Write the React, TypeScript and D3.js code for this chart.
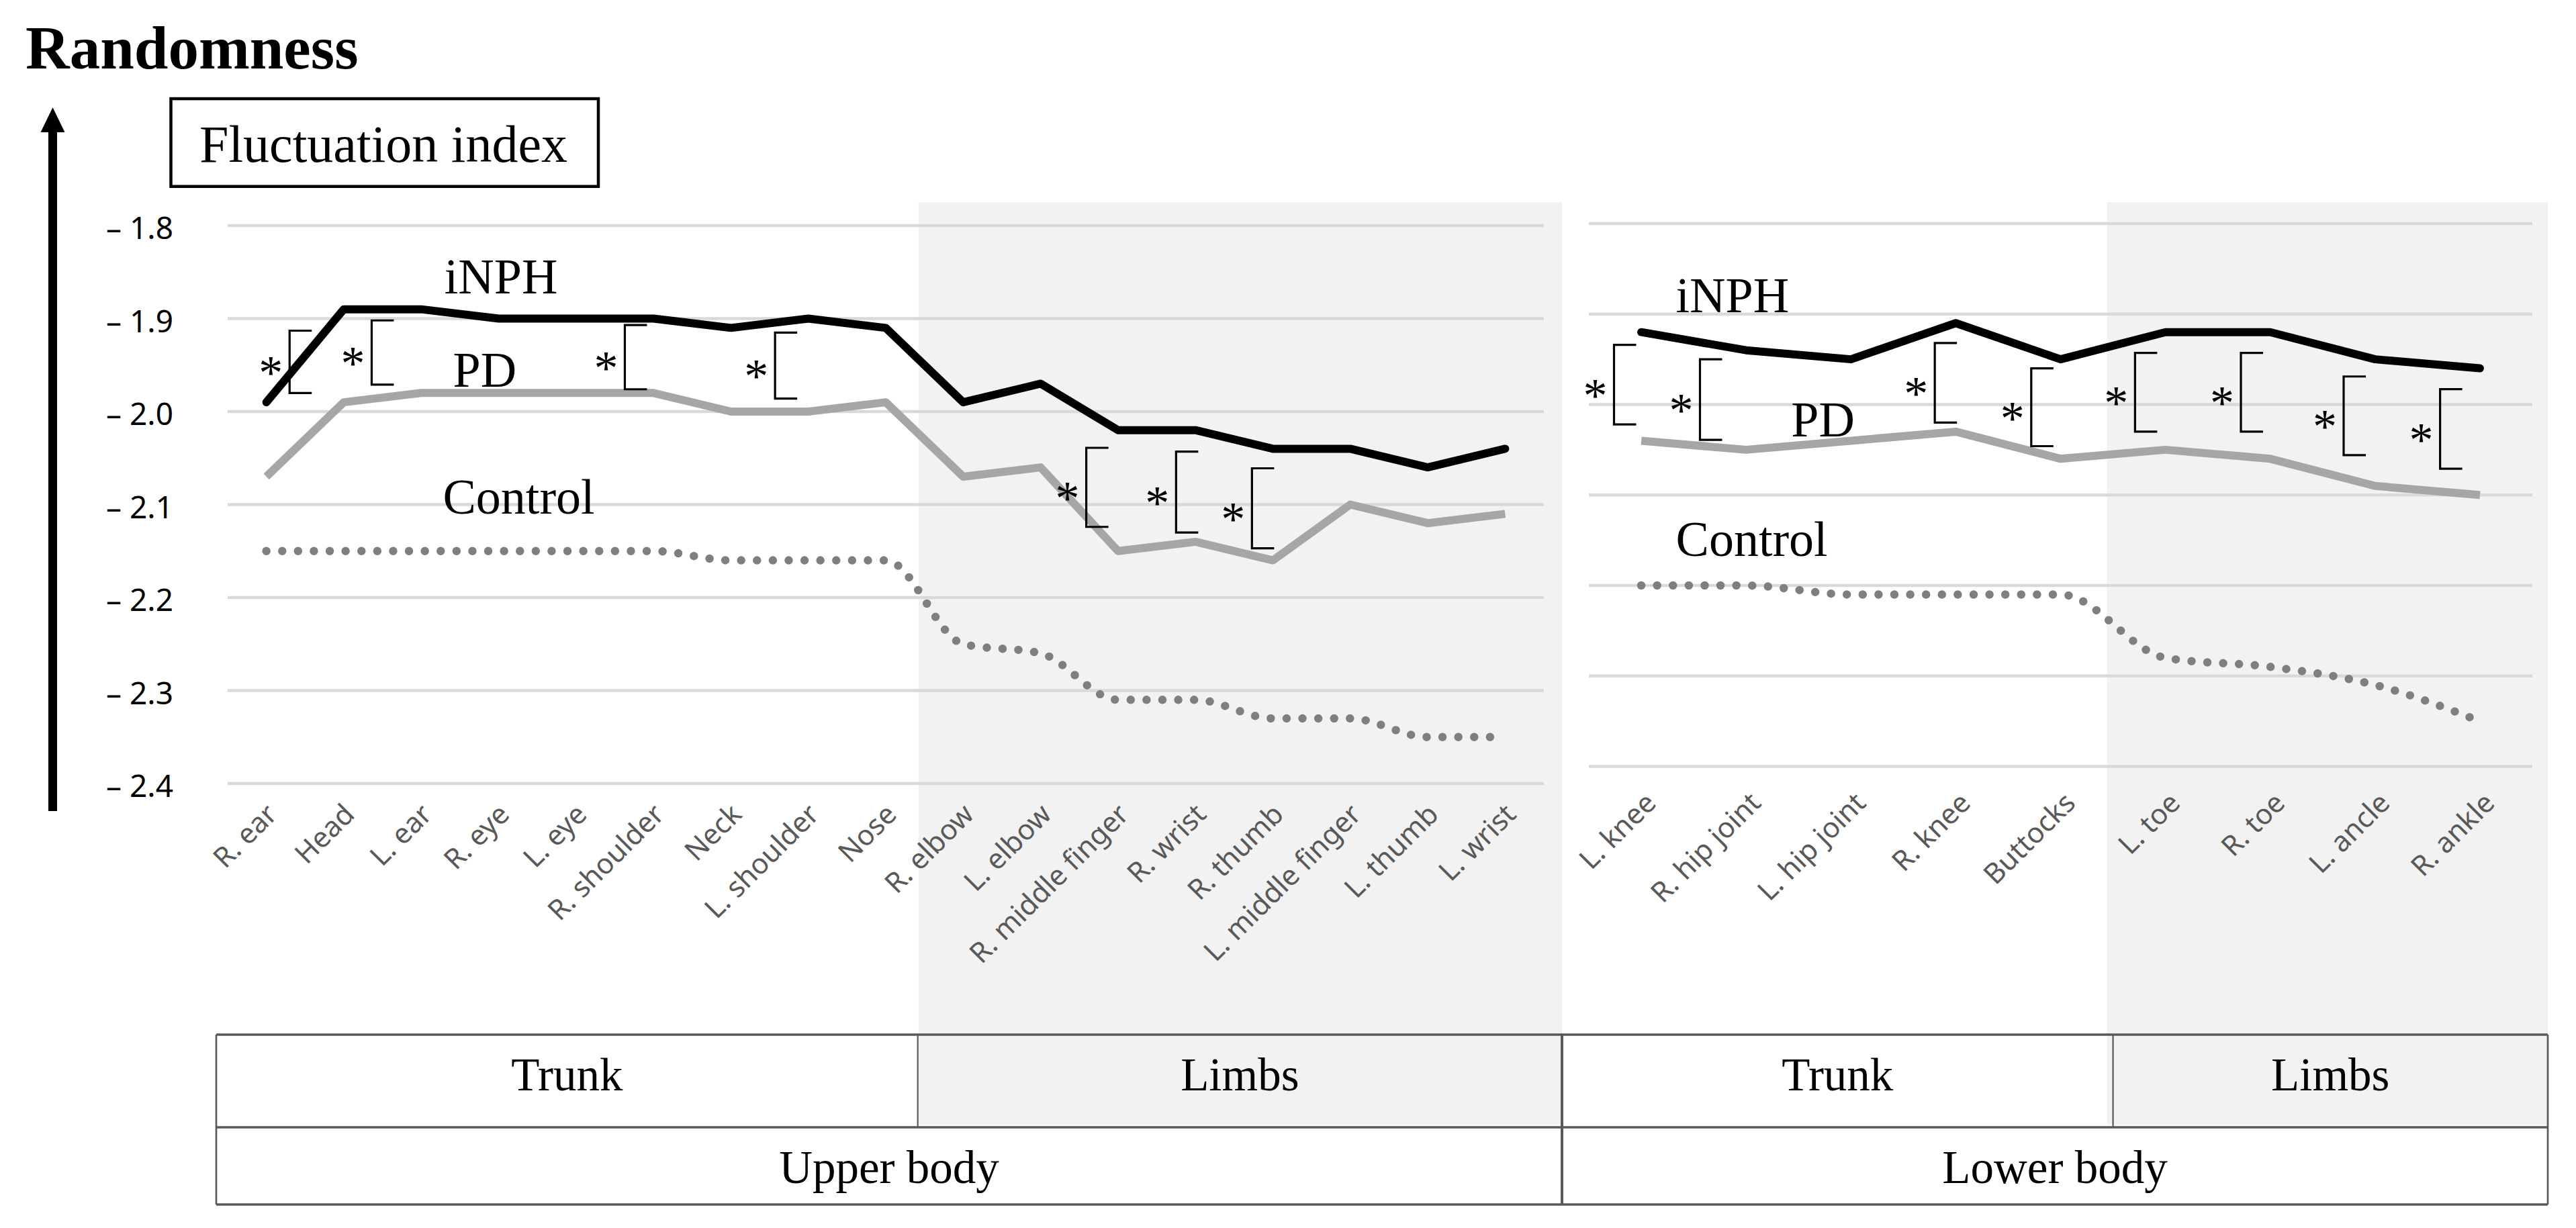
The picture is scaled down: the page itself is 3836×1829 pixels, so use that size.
import * as d3 from 'd3'

const WIDTH = 3836
const HEIGHT = 1829
const SERIF = "'Liberation Serif', 'Times New Roman', serif"
const SANS = "'Noto Sans', 'Open Sans', sans-serif"

// ---- data -------------------------------------------------------------
const upperParts = [
  'R. ear', 'Head', 'L. ear', 'R. eye', 'L. eye', 'R. shoulder', 'Neck', 'L. shoulder', 'Nose',
  'R. elbow', 'L. elbow', 'R. middle finger', 'R. wrist', 'R. thumb', 'L. middle finger', 'L. thumb', 'L. wrist',
]
const upperINPH = [-1.99, -1.89, -1.89, -1.9, -1.9, -1.9, -1.91, -1.9, -1.91, -1.99, -1.97, -2.02, -2.02, -2.04, -2.04, -2.06, -2.04]
const upperPD = [-2.07, -1.99, -1.98, -1.98, -1.98, -1.98, -2.0, -2.0, -1.99, -2.07, -2.06, -2.15, -2.14, -2.16, -2.1, -2.12, -2.11]
const upperControl = [-2.15, -2.15, -2.15, -2.15, -2.15, -2.15, -2.16, -2.16, -2.16, -2.25, -2.26, -2.31, -2.31, -2.33, -2.33, -2.35, -2.35]

const lowerParts = ['L. knee', 'R. hip joint', 'L. hip joint', 'R. knee', 'Buttocks', 'L. toe', 'R. toe', 'L. ancle', 'R. ankle']
const lowerINPH = [-1.92, -1.94, -1.95, -1.91, -1.95, -1.92, -1.92, -1.95, -1.96]
const lowerPD = [-2.04, -2.05, -2.04, -2.03, -2.06, -2.05, -2.06, -2.09, -2.1]
const lowerControl = [-2.2, -2.2, -2.21, -2.21, -2.21, -2.28, -2.29, -2.31, -2.35]

const yTicks = [-1.8, -1.9, -2.0, -2.1, -2.2, -2.3, -2.4]
const yDomain: [number, number] = [-2.4, -1.8]

const bodyGroups = ['Upper body', 'Lower body']
const partGroups = ['Trunk', 'Limbs']
const upperTrunkCount = 9
const lowerTrunkCount = 5

// significance brackets: position in category-index units, value range
const upperBrackets = [
  { at: 0.3, hi: -1.913, lo: -1.98 },
  { at: 1.36, hi: -1.902, lo: -1.971 },
  { at: 4.63, hi: -1.907, lo: -1.976 },
  { at: 6.57, hi: -1.915, lo: -1.986 },
  { at: 10.59, hi: -2.039, lo: -2.124 },
  { at: 11.75, hi: -2.043, lo: -2.13 },
  { at: 12.73, hi: -2.061, lo: -2.147 },
]
const lowerBrackets = [
  { at: -0.26, hi: -1.934, lo: -2.022 },
  { at: 0.56, hi: -1.95, lo: -2.039 },
  { at: 2.8, hi: -1.932, lo: -2.02 },
  { at: 3.72, hi: -1.96, lo: -2.046 },
  { at: 4.71, hi: -1.943, lo: -2.03 },
  { at: 5.72, hi: -1.943, lo: -2.03 },
  { at: 6.7, hi: -1.969, lo: -2.056 },
  { at: 7.62, hi: -1.983, lo: -2.071 },
]

const upperLabels = [
  { text: 'iNPH', at: 2.3, v: -1.873 },
  { text: 'PD', at: 2.41, v: -1.973 },
  { text: 'Control', at: 2.28, v: -2.11 },
]
const lowerLabels = [
  { text: 'iNPH', at: 0.33, v: -1.898 },
  { text: 'PD', at: 1.43, v: -2.035 },
  { text: 'Control', at: 0.33, v: -2.167 },
]

// ---- layout -----------------------------------------------------------
const SHADE_TOP = 301
const TABLE_TOP = 1541
const TABLE_MID = 1679
const TABLE_BOTTOM = 1794
const SHADE_BOTTOM = 1675

const LEFT = { x0: 339, x1: 2299, yTop: 336, yBottom: 1167, outer0: 322, outer1: 2326, labelDx: 8, labelY: 1205 }
const RIGHT = { x0: 2366, x1: 3771, yTop: 333, yBottom: 1141.5, outer0: 2326, outer1: 3794, labelDx: 14, labelY: 1188 }

type Bracket = { at: number; hi: number; lo: number }
type Label = { text: string; at: number; v: number }
type Geo = typeof LEFT

function Panel({
  parts, inph, pd, control, brackets, labels, trunkCount, geo,
}: {
  parts: string[]; inph: number[]; pd: number[]; control: number[]
  brackets: Bracket[]; labels: Label[]; trunkCount: number; geo: Geo
}) {
  const x = d3.scalePoint<string>().domain(parts).range([geo.x0, geo.x1]).padding(0.5)
  const step = x.step()
  const xi = (i: number) => (x(parts[0]) ?? 0) + i * step
  const y = d3.scaleLinear().domain(yDomain).range([geo.yBottom, geo.yTop])

  const line = d3.line<number>().x((_d, i) => xi(i)).y((d) => y(d))
  const smooth = d3.line<number>().x((_d, i) => xi(i)).y((d) => y(d)).curve(d3.curveMonotoneX)

  const limbsStart = xi(trunkCount) - step / 2
  const arm = 33

  return (
    <g>
      <rect x={limbsStart - 9} y={SHADE_TOP} width={geo.outer1 - limbsStart + 9} height={SHADE_BOTTOM - SHADE_TOP} fill="#f2f2f2" />
      {yTicks.map((t) => (
        <line key={t} x1={geo.x0} x2={geo.x1} y1={y(t)} y2={y(t)} stroke="#d9d9d9" strokeWidth={4.5} />
      ))}
      <path d={smooth(control) ?? ''} fill="none" stroke="#7f7f7f" strokeWidth={12.5} strokeDasharray="0 23.6" strokeLinecap="round" />
      <path d={line(pd) ?? ''} fill="none" stroke="#a6a6a6" strokeWidth={12} strokeLinejoin="round" />
      <path d={line(inph) ?? ''} fill="none" stroke="#000" strokeWidth={12} strokeLinejoin="round" strokeLinecap="round" />
      {brackets.map((b, i) => {
        const bx = xi(b.at)
        const top = y(b.hi)
        const bot = y(b.lo)
        return (
          <g key={i}>
            <path d={`M${bx + arm},${top} H${bx} V${bot} H${bx + arm}`} fill="none" stroke="#000" strokeWidth={3.2} />
            <text x={bx - 28} y={(top + bot) / 2 + 6 + 34} textAnchor="middle" fontFamily={SERIF} fontSize={72} fill="#000">
              *
            </text>
          </g>
        )
      })}
      {labels.map((l) => (
        <text key={l.text} x={xi(l.at)} y={y(l.v)} fontFamily={SERIF} fontSize={74} fill="#000">
          {l.text}
        </text>
      ))}
      {parts.map((p) => (
        <text
          key={p}
          transform={`translate(${(x(p) ?? 0) + geo.labelDx},${geo.labelY}) rotate(-45)`}
          textAnchor="end"
          dy="0.35em"
          fontFamily={SANS}
          fontSize={42}
          fill="#595959"
        >
          {p}
        </text>
      ))}
    </g>
  )
}

function Table() {
  const xu = d3.scalePoint<string>().domain(upperParts).range([LEFT.x0, LEFT.x1]).padding(0.5)
  const xl = d3.scalePoint<string>().domain(lowerParts).range([RIGHT.x0, RIGHT.x1]).padding(0.5)
  const uDiv = (xu(upperParts[upperTrunkCount]) ?? 0) - xu.step() / 2 - 10
  const lDiv = (xl(lowerParts[lowerTrunkCount]) ?? 0) - xl.step() / 2
  const stroke = '#595959'
  const cells = [
    { text: partGroups[0], a: LEFT.outer0, b: uDiv },
    { text: partGroups[1], a: uDiv, b: LEFT.outer1 },
    { text: partGroups[0], a: RIGHT.outer0, b: lDiv },
    { text: partGroups[1], a: lDiv, b: RIGHT.outer1 },
  ]
  const bodies = [
    { text: bodyGroups[0], a: LEFT.outer0, b: LEFT.outer1 },
    { text: bodyGroups[1], a: RIGHT.outer0, b: RIGHT.outer1 },
  ]
  return (
    <g>
      {[TABLE_TOP, TABLE_MID, TABLE_BOTTOM].map((ty) => (
        <line key={ty} x1={LEFT.outer0} x2={RIGHT.outer1} y1={ty} y2={ty} stroke={stroke} strokeWidth={3.3} />
      ))}
      <line x1={LEFT.outer0} x2={LEFT.outer0} y1={TABLE_TOP} y2={TABLE_BOTTOM} stroke={stroke} strokeWidth={2.7} />
      <line x1={uDiv} x2={uDiv} y1={TABLE_TOP} y2={TABLE_MID} stroke={stroke} strokeWidth={2.2} />
      <line x1={LEFT.outer1} x2={LEFT.outer1} y1={TABLE_TOP} y2={TABLE_BOTTOM} stroke={stroke} strokeWidth={4} />
      <line x1={lDiv} x2={lDiv} y1={TABLE_TOP} y2={TABLE_MID} stroke={stroke} strokeWidth={2.2} />
      <line x1={RIGHT.outer1} x2={RIGHT.outer1} y1={TABLE_TOP} y2={TABLE_BOTTOM} stroke={stroke} strokeWidth={2.7} />
      {cells.map((c, i) => (
        <text key={i} x={(c.a + c.b) / 2} y={1624} textAnchor="middle" fontFamily={SERIF} fontSize={69} fill="#000">
          {c.text}
        </text>
      ))}
      {bodies.map((c) => (
        <text key={c.text} x={(c.a + c.b) / 2} y={1762} textAnchor="middle" fontFamily={SERIF} fontSize={69} fill="#000">
          {c.text}
        </text>
      ))}
    </g>
  )
}

export default function App() {
  const y = d3.scaleLinear().domain(yDomain).range([LEFT.yBottom, LEFT.yTop])
  return (
    <svg
      width={WIDTH}
      height={HEIGHT}
      viewBox={`0 0 ${WIDTH} ${HEIGHT}`}
      style={{ position: 'absolute', left: 0, top: 0, background: '#fff' }}
    >
      <rect width={WIDTH} height={HEIGHT} fill="#fff" />
      <Panel
        parts={upperParts}
        inph={upperINPH}
        pd={upperPD}
        control={upperControl}
        brackets={upperBrackets}
        labels={upperLabels}
        trunkCount={upperTrunkCount}
        geo={LEFT}
      />
      <Panel
        parts={lowerParts}
        inph={lowerINPH}
        pd={lowerPD}
        control={lowerControl}
        brackets={lowerBrackets}
        labels={lowerLabels}
        trunkCount={lowerTrunkCount}
        geo={RIGHT}
      />
      <Table />

      {yTicks.map((t) => (
        <text key={t} x={258} y={y(t) + 20} textAnchor="end" fontFamily={SANS} fontSize={46} fill="#000">
          {`– ${Math.abs(t).toFixed(1)}`}
        </text>
      ))}

      {/* randomness arrow */}
      <line x1={78.5} x2={78.5} y1={1208} y2={190} stroke="#000" strokeWidth={13} />
      <polygon points="78.5,160 60.5,197 96.5,197" fill="#000" />

      <text x={38} y={102} fontFamily={SERIF} fontWeight="bold" fontSize={91} fill="#000">
        Randomness
      </text>
      <rect x={254.5} y={147} width={636.5} height={130.7} fill="#fff" stroke="#000" strokeWidth={4.5} />
      <text x={297} y={241} fontFamily={SERIF} fontSize={78} fill="#000">
        Fluctuation index
      </text>
    </svg>
  )
}
